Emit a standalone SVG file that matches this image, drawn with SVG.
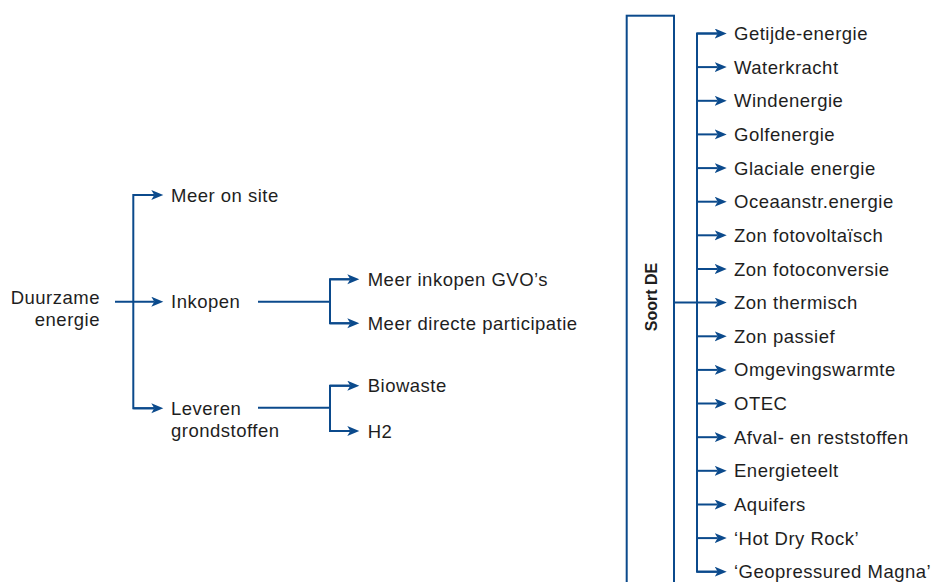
<svg xmlns="http://www.w3.org/2000/svg" width="935" height="582" viewBox="0 0 935 582">
<defs>
<style>
.t{font-family:"Liberation Sans",Arial,sans-serif;font-size:18.5px;fill:#1e1e1e;letter-spacing:0.5px}
.b{font-family:"Liberation Sans",Arial,sans-serif;font-size:16px;font-weight:bold;fill:#1e1e1e}
.c{fill:none;stroke:#0b4a8c;stroke-width:2}
.a{marker-end:url(#ah)}
</style>
<marker id="ah" markerUnits="userSpaceOnUse" markerWidth="14" markerHeight="12" refX="3" refY="5" orient="auto">
<path d="M0,0 L12,5 L0,10 L3,5 z" fill="#0b4a8c"/>
</marker>
</defs>
<rect width="935" height="582" fill="#fff"/>
<g id="connectors">
<path class="c" d="M154.3,195 H133.3 V408.3 H154.3"/>
<path class="c a" d="M133.3,195 H154.3"/>
<path class="c a" d="M115,301.7 H154.3"/>
<path class="c a" d="M133.3,408.3 H154.3"/>
<path class="c" d="M258,301.7 H330"/>
<path class="c" d="M350.3,279.3 H330 V323.3 H350.3"/>
<path class="c a" d="M330,279.3 H350.3"/>
<path class="c a" d="M330,323.3 H350.3"/>
<path class="c" d="M258,407.7 H330"/>
<path class="c" d="M350.3,385.7 H330 V431 H350.3"/>
<path class="c a" d="M330,385.7 H350.3"/>
<path class="c a" d="M330,431 H350.3"/>
<path class="c" d="M717.7,33.5 H697 V571.7 H717.7"/>
<path class="c a" d="M674,302.6 H717.7"/>
<path class="c a" d="M697,33.5 H717.7"/>
<path class="c a" d="M697,67.1 H717.7"/>
<path class="c a" d="M697,100.8 H717.7"/>
<path class="c a" d="M697,134.4 H717.7"/>
<path class="c a" d="M697,168.1 H717.7"/>
<path class="c a" d="M697,201.7 H717.7"/>
<path class="c a" d="M697,235.3 H717.7"/>
<path class="c a" d="M697,269 H717.7"/>
<path class="c a" d="M697,336.3 H717.7"/>
<path class="c a" d="M697,369.9 H717.7"/>
<path class="c a" d="M697,403.5 H717.7"/>
<path class="c a" d="M697,437.2 H717.7"/>
<path class="c a" d="M697,470.8 H717.7"/>
<path class="c a" d="M697,504.5 H717.7"/>
<path class="c a" d="M697,538.1 H717.7"/>
<path class="c a" d="M697,571.7 H717.7"/>
</g>
<g id="duurzame"><text class="t" text-anchor="end"><tspan x="100" y="304">Duurzame</tspan><tspan x="100" y="326">energie</tspan></text></g>
<g id="meer-on-site"><text class="t" x="171" y="201.5">Meer on site</text></g>
<g id="inkopen"><text class="t" x="171" y="308.2">Inkopen</text></g>
<g id="leveren"><text class="t"><tspan x="171" y="414.8">Leveren</tspan><tspan x="171" y="437">grondstoffen</tspan></text></g>
<g id="gvo"><text class="t" x="367.7" y="285.8">Meer inkopen GVO’s</text></g>
<g id="participatie"><text class="t" x="367.7" y="329.8">Meer directe participatie</text></g>
<g id="biowaste"><text class="t" x="367.7" y="392.2">Biowaste</text></g>
<g id="h2"><text class="t" x="367.7" y="437.5">H2</text></g>
<g id="soort-de">
<rect class="c" x="626.7" y="15.7" width="47.3" height="600"/>
<text class="b" text-anchor="middle" transform="translate(656.5,297) rotate(-90)">Soort DE</text>
</g>
<g id="soorten">
<text class="t" x="734" y="40">Getijde-energie</text>
<text class="t" x="734" y="73.6">Waterkracht</text>
<text class="t" x="734" y="107.3">Windenergie</text>
<text class="t" x="734" y="140.9">Golfenergie</text>
<text class="t" x="734" y="174.6">Glaciale energie</text>
<text class="t" x="734" y="208.2">Oceaanstr.energie</text>
<text class="t" x="734" y="241.8">Zon fotovoltaïsch</text>
<text class="t" x="734" y="275.5">Zon fotoconversie</text>
<text class="t" x="734" y="309.1">Zon thermisch</text>
<text class="t" x="734" y="342.8">Zon passief</text>
<text class="t" x="734" y="376.4">Omgevingswarmte</text>
<text class="t" x="734" y="410">OTEC</text>
<text class="t" x="734" y="443.7">Afval- en reststoffen</text>
<text class="t" x="734" y="477.3">Energieteelt</text>
<text class="t" x="734" y="511">Aquifers</text>
<text class="t" x="734" y="544.6">‘Hot Dry Rock’</text>
<text class="t" x="734" y="578.2">‘Geopressured Magna’</text>
</g>
</svg>
